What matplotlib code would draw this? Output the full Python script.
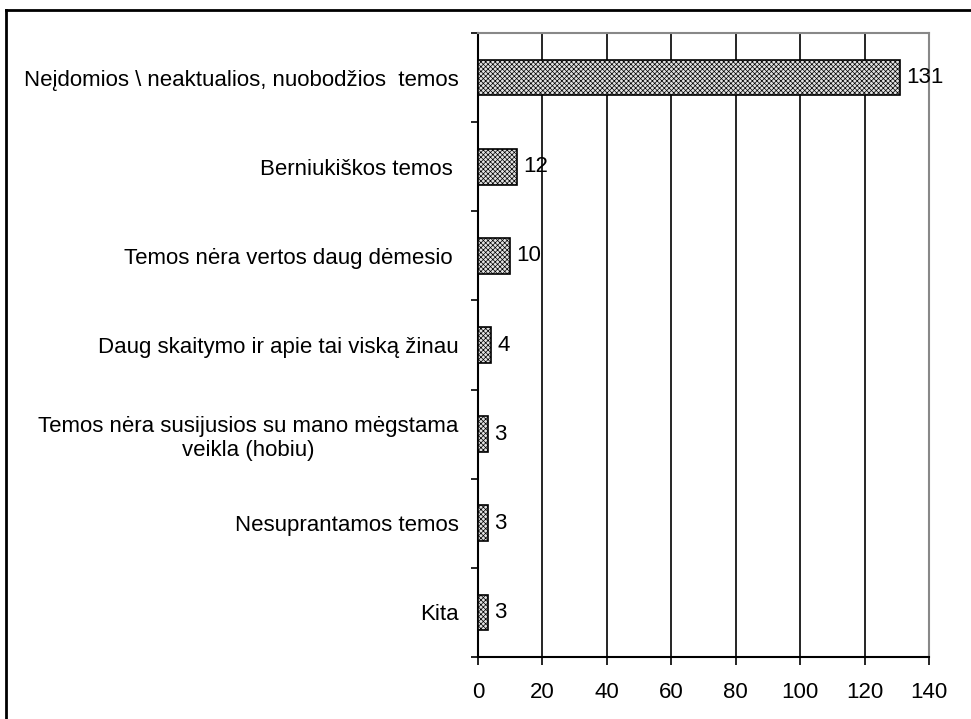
import matplotlib.pyplot as plt
import numpy as np

plt.rcParams['font.family'] = ['Liberation Sans', 'DejaVu Sans']
plt.rcParams['hatch.color'] = '#a0a0a0'
plt.rcParams['hatch.linewidth'] = 0.5

categories = [
    "Neįdomios \\ neaktualios, nuobodžios  temos",
    "Berniukiškos temos ",
    "Temos nėra vertos daug dėmesio ",
    "Daug skaitymo ir apie tai viską žinau",
    "Temos nėra susijusios su mano mėgstama\nveikla (hobiu)",
    "Nesuprantamos temos",
    "Kita",
]
values = [131, 12, 10, 4, 3, 3, 3]
xticks = [0, 20, 40, 60, 80, 100, 120, 140]

fig = plt.figure(figsize=(9.71, 7.19), dpi=100)
ax = fig.add_axes([0.4923, 0.0862, 0.4644, 0.8679])

y = np.arange(len(categories))
ax.barh(y, values, height=0.4, color='#e2e2e2', edgecolor='black',
        linewidth=1.2, hatch='xxxxxxx', zorder=3)

for yi, v in zip(y, values):
    ax.text(v + 2, yi, str(v), va='center', ha='left', fontsize=16)

ax.set_xlim(0, 140)
ax.set_ylim(len(categories) - 0.5, -0.5)
ax.set_xticks(xticks)
ax.tick_params(axis='x', direction='out', length=6, width=1.2, labelsize=16, pad=12)
ax.set_yticks(y)
ax.set_yticklabels(categories, fontsize=16, multialignment='center')
ax.tick_params(axis='y', which='major', length=0, pad=14)
ax.set_yticks(np.arange(-0.5, len(categories)), minor=True)
ax.tick_params(axis='y', which='minor', direction='out', length=5, width=1.2)

for xv in xticks[1:-1]:
    ax.axvline(xv, color='black', linewidth=1.2, zorder=1)

ax.spines['top'].set_color('#888888')
ax.spines['right'].set_color('#888888')
for s in ax.spines.values():
    s.set_linewidth(1.5)

# outer frame of the figure (left and top edges visible)
fig.add_artist(plt.Line2D([0.0062, 0.0062], [0, 0.986], color='black', linewidth=2,
                          transform=fig.transFigure))
fig.add_artist(plt.Line2D([0.0062, 1.0], [0.986, 0.986], color='black', linewidth=2,
                          transform=fig.transFigure))

fig.savefig('out.png', dpi=100)
